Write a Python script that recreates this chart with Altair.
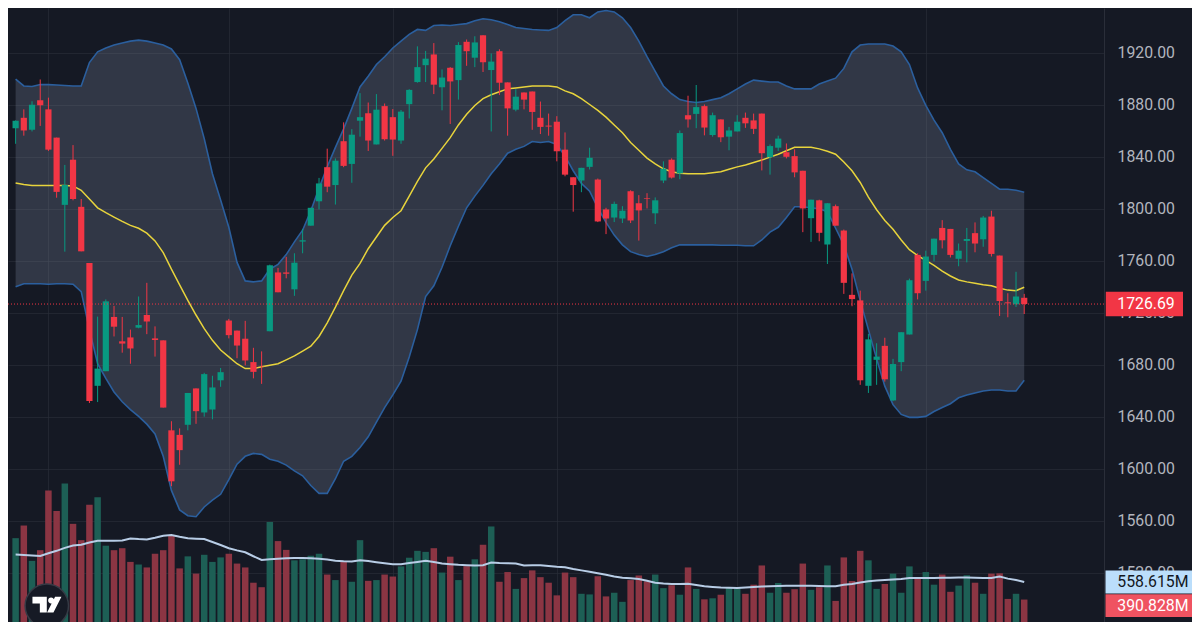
import altair as alt
import pandas as pd

# ---------------- data ----------------
OPEN = [
    1862, 1870, 1860.75, 1883.5, 1876.5, 1854.75, 1803, 1837.75, 1801.5, 1758.25,
    1663.75, 1675, 1716.75, 1698, 1701, 1708.5, 1718.25, 1700.25, 1698.75, 1629.5,
    1626, 1633.75, 1661.75, 1643.25, 1645.5, 1668, 1714, 1706.25, 1700, 1682,
    1678.5, 1705.75, 1751, 1751, 1738, 1774.75, 1787, 1805.75, 1832, 1818.25,
    1852, 1834.5, 1867.75, 1873.5, 1849.5, 1879, 1870.5, 1852.5, 1880.5, 1897.5,
    1910.5, 1918.75, 1893.5, 1908.5, 1899, 1928.5, 1916.25, 1933.5, 1906.75, 1921.25,
    1897.25, 1876.25, 1889.5, 1890.25, 1870, 1864, 1867, 1845.5, 1824.25, 1821.75,
    1832.25, 1822.5, 1799.5, 1793.25, 1792.5, 1813.5, 1804.25, 1808.25, 1796.5, 1821.75,
    1837.75, 1827.25, 1872, 1873, 1879, 1856.75, 1868.75, 1855.5, 1859.5, 1870,
    1868, 1873.25, 1839.75, 1847, 1843.5, 1840.5, 1829.25, 1792.75, 1806.5, 1772.5,
    1802, 1783.25, 1733.75, 1729.5, 1663.75, 1683.75, 1694.5, 1652.5, 1682, 1703.25,
    1764.5, 1744.5, 1764.5, 1785.25, 1784.5, 1761.5, 1775.25, 1781.25, 1776.5, 1794,
    1764, 1728, 1726.5, 1731.5,
]
HIGH = [
    1868, 1876.5, 1882.75, 1899.5, 1885.5, 1854.75, 1833.75, 1849, 1807.5, 1758.25,
    1717, 1730.25, 1725.25, 1716.75, 1707, 1732.5, 1743, 1709.5, 1698.75, 1636.5,
    1631, 1658.25, 1661.75, 1673.75, 1671.5, 1677.5, 1715.25, 1706.25, 1713.75, 1693,
    1690.25, 1757, 1754.5, 1763, 1765.75, 1784.5, 1800.75, 1823.75, 1846.25, 1838.75,
    1866.5, 1861.25, 1889, 1881.75, 1888.25, 1881, 1876.75, 1876, 1892, 1925,
    1921.5, 1927.5, 1907.25, 1909, 1928.25, 1930.25, 1932.75, 1933.5, 1919.5, 1922.75,
    1897.25, 1892, 1889.5, 1890.25, 1882.5, 1873.25, 1871.25, 1858.75, 1824.25, 1831.5,
    1847, 1823.25, 1800.75, 1805.5, 1802, 1814.25, 1810.5, 1812, 1808.75, 1836.5,
    1838.75, 1860.25, 1887, 1895.25, 1880.25, 1874, 1868.75, 1863, 1872, 1874,
    1873.25, 1873.25, 1849.5, 1856.25, 1850.25, 1845.75, 1829.25, 1807, 1807, 1804.25,
    1803.25, 1784, 1750.25, 1737, 1703.75, 1696.5, 1700.75, 1684.5, 1705, 1746.25,
    1765.75, 1767.75, 1777, 1791.25, 1784.5, 1773.25, 1785.25, 1789.5, 1794.5, 1798.5,
    1764, 1735, 1751.5, 1734.5,
]
LOW = [
    1850, 1856.25, 1859.5, 1863.75, 1844.5, 1808.5, 1767, 1806.5, 1767.25, 1650.5,
    1651.25, 1675, 1701.75, 1689.25, 1680.75, 1708, 1703.5, 1686.25, 1647, 1586.5,
    1603, 1629.5, 1634.5, 1640, 1638, 1663, 1700.25, 1685, 1679.5, 1669.5,
    1665.25, 1705.75, 1735.75, 1746.5, 1733, 1765.75, 1787, 1799.5, 1812.75, 1803.25,
    1832, 1820, 1855.5, 1844.5, 1849.5, 1852.5, 1840.75, 1850, 1869.5, 1897,
    1897.5, 1888.25, 1875.75, 1865.25, 1884, 1910, 1909, 1905.25, 1859.5, 1887.5,
    1856.25, 1875, 1876.5, 1860.75, 1857.5, 1856.25, 1836.5, 1825, 1797.75, 1812.75,
    1830.25, 1789.75, 1780.5, 1789.75, 1789, 1789, 1775.5, 1800.25, 1788.25, 1819.75,
    1823.25, 1822.75, 1862.5, 1862, 1856.5, 1855.5, 1851.25, 1845, 1859.5, 1862.25,
    1857.5, 1829.5, 1826.25, 1844.5, 1838.75, 1824.25, 1782, 1774.5, 1775, 1757.5,
    1787, 1734.5, 1725, 1664.5, 1658.25, 1664.5, 1667, 1652, 1675, 1703.25,
    1730.25, 1737, 1759.5, 1769.5, 1762.5, 1755.75, 1758.75, 1766.5, 1770.75, 1763.25,
    1717.5, 1716.5, 1724.5, 1719,
]
CLOSE = [
    1867.75, 1860.25, 1880, 1879.75, 1845.5, 1813, 1818.25, 1807.5, 1767.25, 1652,
    1677, 1728.75, 1709.25, 1696.25, 1692.5, 1710.5, 1713.25, 1699, 1647, 1590.25,
    1614.25, 1658.25, 1644.25, 1672.75, 1662.5, 1674.25, 1702.75, 1694.75, 1683.25, 1674.5,
    1678.25, 1756.5, 1735.75, 1750, 1758.5, 1775.75, 1800.75, 1819.5, 1817, 1837,
    1833, 1857, 1870.5, 1852.5, 1876.25, 1853.5, 1853.25, 1874.75, 1891.5, 1909,
    1915.5, 1895.5, 1901, 1898, 1926, 1921.25, 1928, 1912.75, 1913.25, 1897,
    1877.25, 1886.25, 1884, 1874.5, 1863, 1863.25, 1844.25, 1826.25, 1818.25, 1831.5,
    1839.25, 1790.25, 1792.5, 1803.75, 1798.5, 1791, 1798.75, 1807.75, 1806.5, 1830.75,
    1824, 1858.25, 1868.75, 1878.25, 1862.5, 1872, 1855, 1860.25, 1867, 1865.75,
    1861.5, 1842.75, 1848.25, 1854, 1840, 1828, 1800.25, 1807, 1781.5, 1804.25,
    1787, 1743, 1730.5, 1668, 1699.5, 1686.25, 1668.75, 1680.5, 1705, 1745,
    1735, 1763.25, 1777, 1775.75, 1764.5, 1767.75, 1776.75, 1773.25, 1793.25, 1765.25,
    1729, 1727.25, 1732.5, 1726.69,
]
# volume in millions
VOLUME = [
    978, 1099, 761, 863, 1435, 1239, 1500, 1115, 959, 1298,
    1369, 906, 863, 882, 751, 726, 698, 829, 863, 999,
    689, 804, 639, 819, 751, 794, 829, 735, 698, 552,
    509, 1133, 950, 866, 766, 776, 810, 829, 630, 577,
    757, 561, 959, 570, 577, 630, 611, 708, 791, 857,
    847, 882, 649, 801, 577, 710, 776, 915, 1090, 561,
    654, 493, 596, 670, 605, 552, 431, 649, 605, 446,
    440, 614, 421, 456, 369, 577, 621, 565, 630, 500,
    528, 437, 698, 493, 393, 403, 437, 502, 496, 446,
    533, 717, 456, 549, 456, 490, 735, 484, 509, 717,
    378, 794, 568, 857, 766, 493, 540, 639, 456, 708,
    593, 654, 533, 630, 465, 524, 624, 552, 446, 639,
    642, 397, 446, 390.828,
]
VOL_MA = [
    821, 817, 812, 808, 833, 857, 885, 908, 915, 936,
    953, 953, 953, 955, 975, 969, 966, 982, 1001, 1009,
    992, 978, 973, 969, 941, 913, 882, 861, 843, 805,
    770, 777, 782, 785, 789, 788, 785, 782, 775, 762,
    757, 754, 766, 759, 748, 738, 729, 729, 740, 751,
    761, 749, 735, 729, 723, 720, 717, 719, 745, 740,
    738, 735, 717, 719, 720, 712, 705, 700, 684, 670,
    656, 642, 628, 611, 600, 594, 587, 570, 552, 545,
    540, 539, 543, 530, 518, 512, 507, 504, 502, 507,
    512, 515, 518, 520, 522, 523, 524, 522, 520, 519,
    518, 533, 539, 554, 566, 573, 577, 582, 588, 596,
    597, 598, 598, 599, 600, 601, 602, 600, 598, 596,
    611, 591, 577, 558.615,
]
BB_UPPER = [
    1899.75, 1894.5, 1894.1, 1895.6, 1895.5, 1895.25, 1894.9, 1894.5, 1894.5, 1912.5,
    1920.75, 1923.75, 1926, 1927.5, 1929, 1929.75, 1929, 1927.5, 1926, 1923,
    1914.75, 1896.75, 1877.25, 1854, 1827, 1806.75, 1785.75, 1758.75, 1744.5, 1743.75,
    1744.5, 1753.5, 1757.25, 1764.75, 1774.5, 1783.5, 1798.5, 1815.75, 1832.25, 1847.25,
    1861.5, 1877.25, 1893.75, 1902, 1911, 1917, 1923.75, 1929, 1934.25, 1938,
    1937.25, 1941, 1941.4, 1941, 1941.75, 1942.5, 1944.75, 1946.25, 1945.5, 1944,
    1941.75, 1939.5, 1938.75, 1938, 1937.6, 1937.25, 1939.5, 1944.75, 1949.25, 1949.25,
    1947, 1951.5, 1952.6, 1951.5, 1947, 1939.5, 1929, 1917, 1905.75, 1894.5,
    1888.5, 1884, 1882.5, 1881.75, 1882.5, 1884, 1885.5, 1888.5, 1892.25, 1896,
    1899, 1898.25, 1897.5, 1897.5, 1894.5, 1892.25, 1892.25, 1892.25, 1896, 1898.25,
    1900.5, 1908, 1920.75, 1926, 1926.75, 1926.75, 1926.75, 1925.25, 1920.75, 1911,
    1893, 1879.5, 1868.25, 1858.5, 1845.75, 1834.5, 1830, 1828.5, 1824, 1819.5,
    1815, 1815, 1814.25, 1812.75,
]
BB_BASIS = [
    1819.9, 1818.75, 1818, 1818, 1818, 1818, 1818, 1817.6, 1814.25, 1807.5,
    1800.75, 1797, 1793.6, 1790.25, 1787.25, 1785, 1781.25, 1775.25, 1766.25, 1753.5,
    1741.5, 1729.5, 1718.25, 1707.75, 1698.75, 1691.25, 1686, 1680.75, 1677, 1677,
    1678.5, 1679.6, 1680.75, 1683.75, 1686.75, 1690.5, 1694.25, 1701.75, 1712.25, 1724.25,
    1737, 1749, 1758, 1769.25, 1778.25, 1787.25, 1793.25, 1798.5, 1809.75, 1821,
    1831.5, 1838.25, 1846.5, 1854.75, 1864.5, 1872.75, 1879.5, 1884.75, 1887.75, 1890,
    1892.25, 1893, 1893.75, 1894.5, 1894.5, 1894.5, 1893.75, 1890.75, 1888.5, 1884.75,
    1880.25, 1875.75, 1870.5, 1864.5, 1858.5, 1851, 1845, 1839, 1834.5, 1830.75,
    1828.5, 1827.4, 1827, 1827, 1827, 1827.75, 1828.5, 1830.4, 1832.25, 1833.75,
    1835.6, 1837.5, 1839.75, 1842, 1844.6, 1847.25, 1847.25, 1847.25, 1846.1, 1844.25,
    1842, 1836, 1829.25, 1820.25, 1809, 1799.25, 1791, 1784.25, 1776, 1768.5,
    1764, 1760.25, 1756.5, 1752, 1748.25, 1745.25, 1743.75, 1742.6, 1741.5, 1740.75,
    1738.9, 1737.4, 1737, 1739.6,
]
BB_LOWER = [
    1740, 1742.25, 1742.25, 1742.25, 1741.9, 1742.25, 1742.25, 1741.9, 1736.25, 1707,
    1680.75, 1669.5, 1659, 1651.5, 1645.5, 1640.25, 1634.25, 1626.75, 1609.5, 1583.25,
    1568.25, 1563.75, 1563, 1570.5, 1575.75, 1580.25, 1591.5, 1603.5, 1609.5, 1611.75,
    1611, 1607.25, 1605.75, 1602.75, 1598.25, 1594.5, 1587, 1581, 1581, 1592.25,
    1605.75, 1609.5, 1616.25, 1624.5, 1635.75, 1647, 1656.75, 1667.25, 1686, 1707,
    1732.5, 1740.75, 1755, 1771.5, 1786.5, 1800.75, 1809.75, 1818, 1827, 1834.5,
    1842.75, 1845.75, 1848, 1851.75, 1851, 1851.75, 1849.5, 1840.5, 1829.25, 1819.5,
    1813.5, 1800.75, 1789.5, 1779.75, 1772.25, 1767, 1764.75, 1763.25, 1764.75, 1767,
    1770, 1772.25, 1772.25, 1772.25, 1772.25, 1772.25, 1771.9, 1771.9, 1771.9, 1771.5,
    1771.5, 1776, 1782, 1785.75, 1793.25, 1801.5, 1801.5, 1800.75, 1800, 1797.75,
    1785, 1772.25, 1753.5, 1729.5, 1707, 1684.5, 1663.5, 1649.25, 1641.75, 1639.5,
    1639.5, 1640.25, 1644, 1647, 1650, 1654.5, 1656.75, 1658.25, 1659.75, 1660.5,
    1660.5, 1659.75, 1659.75, 1668,
]
PRICE_TICKS = [1480, 1520, 1560, 1600, 1640, 1680, 1720, 1760, 1800, 1840, 1880, 1920]
MONTH_STARTS = [4, 26, 46, 66, 88, 111]

# ---------------- styling ----------------
W, H = 1096, 614
BG = "#151924"
UP, DOWN = "#089981", "#f23645"
VOL_UP, VOL_DOWN = "#1d5f55", "#8b3543"
GRID = "#2a2e39"
FONT = "Roboto"
FS = 15.8
LOGO_PATH = ("M-0.97,-0.61 L0,-0.61 L0,0.45 L-0.47,0.45 L-0.47,-0.16 L-0.97,-0.16 Z "
             "M0.09,-0.36 A0.2,0.2 0 1,1 0.49,-0.36 A0.2,0.2 0 1,1 0.09,-0.36 Z "
             "M0.56,-0.61 L0.99,-0.61 L0.45,0.45 L0.02,0.45 Z")

n = len(CLOSE)
df = pd.DataFrame({
    "i": list(range(n)), "o": OPEN, "h": HIGH, "l": LOW, "c": CLOSE,
    "v": VOLUME, "vma": VOL_MA, "up": BB_UPPER, "mid": BB_BASIS, "lo": BB_LOWER,
})
last = pd.DataFrame({
    "price": [CLOSE[-1]], "plabel": [f"{CLOSE[-1]:.2f}"],
    "vma": [VOL_MA[-1]], "malabel": [f"{VOL_MA[-1]:.3f}M"],
    "vol": [VOLUME[-1]], "vlabel": [f"{VOLUME[-1]:.3f}M"],
})

xs = alt.Scale(domain=[-0.32, 132.12], nice=False, zero=False)
ps = alt.Scale(domain=[1482, 1954.5], nice=False, zero=False)
vs = alt.Scale(domain=[176.2, 6048.6], nice=False, zero=False)

XAX = alt.Axis(values=MONTH_STARTS, labels=False, ticks=False, domain=False, title=None,
               grid=True, gridColor=GRID, gridOpacity=0.65)
YAX = alt.Axis(orient="right", values=PRICE_TICKS, format=".2f", grid=True, gridColor=GRID,
               gridOpacity=0.65, ticks=False, domain=True, domainColor=GRID, labelPadding=13,
               labelFont=FONT, labelFontSize=FS, labelColor="#b2b5be", title=None,
               labelAlign="left", labelBaseline="middle")

X = alt.X("i:Q", scale=xs, axis=XAX)
candle_color = alt.condition("datum.c >= datum.o", alt.value(UP), alt.value(DOWN))
vol_color = alt.condition("datum.c >= datum.o", alt.value(VOL_UP), alt.value(VOL_DOWN))

base = alt.Chart(df)

# volume pane
vbars = base.mark_bar(width=6.5, clip=True).encode(
    x=X, y=alt.Y("v:Q", scale=vs, axis=None), y2=alt.datum(0), color=vol_color)
vma = base.mark_line(color="#b8cde6", strokeWidth=2).encode(
    x=X, y=alt.Y("vma:Q", scale=vs, axis=None))
ma_tag = alt.Chart(last).mark_rule(color="#bbdefb", strokeWidth=22.8, strokeCap="butt").encode(
    y=alt.Y("vma:Q", scale=vs, axis=None), x=alt.value(1097.5), x2=alt.value(1184))
ma_txt = alt.Chart(last).mark_text(align="left", baseline="middle", color="#131722",
                                   font=FONT, fontSize=FS).encode(
    y=alt.Y("vma:Q", scale=vs, axis=None), x=alt.value(1109.3), text="malabel:N")
v_tag = alt.Chart(last).mark_rule(color="#ef5361", strokeWidth=22.8, strokeCap="butt",
                                  yOffset=6.1).encode(
    y=alt.Y("vol:Q", scale=vs, axis=None), x=alt.value(1097.5), x2=alt.value(1184))
v_txt = alt.Chart(last).mark_text(align="left", baseline="middle", color="white",
                                  font=FONT, fontSize=FS, yOffset=6.1).encode(
    y=alt.Y("vol:Q", scale=vs, axis=None), x=alt.value(1109.3), text="vlabel:N")
vol_layer = alt.layer(vbars, vma, ma_tag, ma_txt, v_tag, v_txt)

# price pane
band = base.mark_area(color="#8995ac", opacity=0.25).encode(
    x=X, y=alt.Y("up:Q", scale=ps, axis=YAX), y2="lo:Q")
up_line = base.mark_line(color="#2b5f9e", strokeWidth=1.6).encode(
    x=X, y=alt.Y("up:Q", scale=ps, axis=YAX))
lo_line = base.mark_line(color="#2b5f9e", strokeWidth=1.6).encode(
    x=X, y=alt.Y("lo:Q", scale=ps, axis=YAX))
mid_line = base.mark_line(color="#e8d43c", strokeWidth=1.5).encode(
    x=X, y=alt.Y("mid:Q", scale=ps, axis=YAX))
wick = base.mark_rule(strokeWidth=1).encode(
    x=X, y=alt.Y("l:Q", scale=ps, axis=YAX), y2="h:Q", color=candle_color)
body = base.mark_bar(width=6.2).encode(
    x=X, y=alt.Y("o:Q", scale=ps, axis=YAX), y2="c:Q", color=candle_color)
pline = alt.Chart(last).mark_rule(color=DOWN, strokeWidth=1, strokeDash=[1, 2]).encode(
    y=alt.Y("price:Q", scale=ps, axis=YAX), x=alt.value(0), x2=alt.value(1098))
p_tag = alt.Chart(last).mark_rule(color=DOWN, strokeWidth=24.4, strokeCap="butt").encode(
    y=alt.Y("price:Q", scale=ps, axis=YAX), x=alt.value(1097.8), x2=alt.value(1175))
p_txt = alt.Chart(last).mark_text(align="left", baseline="middle", color="white",
                                  font=FONT, fontSize=FS).encode(
    y=alt.Y("price:Q", scale=ps, axis=YAX), x=alt.value(1109.3), text="plabel:N")
price_layer = alt.layer(band, up_line, lo_line, mid_line, wick, body, pline, p_tag, p_txt)

# logo
logo_df = pd.DataFrame({"k": [0]})
logo_circle = alt.Chart(logo_df).mark_point(
    shape="circle", size=1884, filled=True, fill="#161a25", stroke="#363a45",
    strokeWidth=1.5, opacity=1).encode(x=alt.value(38.8), y=alt.value(597.8))
logo_glyph = alt.Chart(logo_df).mark_point(
    shape=LOGO_PATH, size=876, filled=True, color="#ffffff", opacity=1).encode(
    x=alt.value(38.8), y=alt.value(597.8))

chart = alt.layer(vol_layer, price_layer, logo_circle, logo_glyph).resolve_scale(
    y="independent"
).properties(
    width=W, height=H, background=BG,
    padding={"left": 0, "top": 0, "right": 88, "bottom": 0},
    autosize=alt.AutoSizeParams(type="none"),
).configure_view(stroke=None)

chart.save("out.html", embed_options={"renderer": "svg", "actions": False})
